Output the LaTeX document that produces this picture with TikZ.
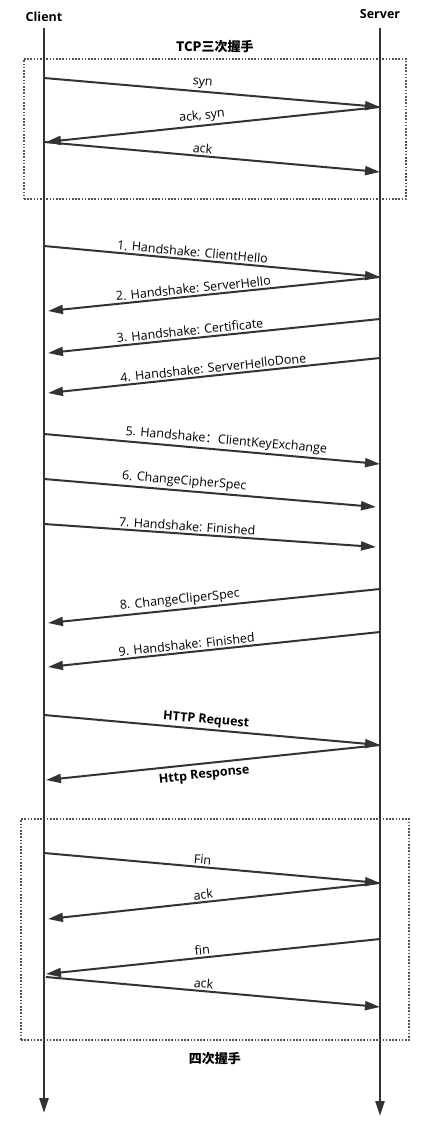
\documentclass[tikz,border=0pt]{standalone}
\usepackage{fontspec}
\setmainfont{Open Sans}
\newfontfamily\cjk{Noto Sans CJK SC}
\usetikzlibrary{arrows.meta,positioning}
\definecolor{ink}{HTML}{333333}
\definecolor{dotgray}{HTML}{555555}
\tikzset{
  actor/.style={
    font=\fontsize{12.5}{14}\selectfont\bfseries, text=black,
    inner sep=1pt
  },
  lifeline/.style={
    line width=2.2pt, draw=ink, -{Triangle[length=15pt,width=9pt]}
  },
  msg/.style={
    line width=2pt, draw=ink, -{Triangle[length=15pt,width=9pt]}
  },
  msglabel/.style={
    font=\fontsize{12.5}{14}\selectfont, text=black,
    sloped, inner sep=2pt
  },
  boldlabel/.style={
    msglabel, font=\fontsize{12.5}{14}\selectfont\bfseries
  },
  phasebox/.style={
    draw=dotgray, line width=1.8pt, dash pattern=on 1.6pt off 1.6pt,
    inner sep=0pt, anchor=north west
  },
  phaselabel/.style={
    font=\cjk\bfseries\fontsize{13}{15}\selectfont, inner sep=1pt
  },
}
\begin{document}
\begin{tikzpicture}[x=1pt, y=-1pt]
  \useasboundingbox (0,0) rectangle (427,1126);

  % actors and lifelines
  \node[actor] (client) at (44,17) {Client};
  \node[actor] (server) at (380,14) {Server};
  \coordinate (clienttop) at (44,28);
  \coordinate (servertop) at (380,28);
  \coordinate (clientend) at (44,1113);
  \coordinate (serverend) at (380,1116);

  % phase boxes
  \node[phasebox, minimum width=382pt, minimum height=140pt] (tcpbox) at (23,58) {};
  \node[phaselabel, above=4pt of tcpbox] (tcplabel) {TCP三次握手};
  \node[phasebox, minimum width=388pt, minimum height=221pt] (finbox) at (20,818) {};
  \node[phaselabel, below=10pt of finbox] (finlabel) {四次握手};

  \draw[lifeline] (clienttop) -- (clientend);
  \draw[lifeline] (servertop) -- (serverend);

  % TCP handshake
  \coordinate (c1) at (44,78);  \coordinate (s1) at (380,107);
  \coordinate (c2) at (46,142); \coordinate (c3) at (44,142);
  \coordinate (s3) at (380,172);
  \draw[msg] (c1) -- (s1) node[msglabel, pos=0.47, above] {syn};
  \draw[msg] (s1) -- (c2) node[msglabel, pos=0.53, above] {ack, syn};
  \draw[msg] (c3) -- (s3) node[msglabel, pos=0.47, above] {ack};

  % TLS handshake
  \coordinate (c4) at (44,246);  \coordinate (s4) at (380,277);
  \coordinate (c5) at (48,311);
  \coordinate (s6) at (380,319); \coordinate (c6) at (48,353);
  \coordinate (s7) at (380,358); \coordinate (c7) at (48,393);
  \draw[msg] (c4) -- (s4) node[msglabel, pos=0.44, above] {1. Handshake: ClientHello};
  \draw[msg] (s4) -- (c5) node[msglabel, pos=0.56, above] {2. Handshake: ServerHello};
  \draw[msg] (s6) -- (c6) node[msglabel, pos=0.57, above] {3. Handshake: Certificate};
  \draw[msg] (s7) -- (c7) node[msglabel, pos=0.50, above] {4. Handshake: ServerHelloDone};

  \coordinate (c8) at (44,434);  \coordinate (s8) at (380,464);
  \coordinate (c9) at (44,479);  \coordinate (s9) at (376,507);
  \coordinate (c10) at (44,524); \coordinate (s10) at (376,547);
  \draw[msg] (c8) -- (s8) node[msglabel, pos=0.54, above] {5. Handshake{\cjk ：}ClientKeyExchange};
  \draw[msg] (c9) -- (s9) node[msglabel, pos=0.42, above] {6. ChangeCipherSpec};
  \draw[msg] (c10) -- (s10) node[msglabel, pos=0.43, above] {7. Handshake: Finished};

  \coordinate (s11) at (380,589); \coordinate (c11) at (48,623);
  \coordinate (s12) at (380,632); \coordinate (c12) at (48,667);
  \draw[msg] (s11) -- (c11) node[msglabel, pos=0.60, above] {8. ChangeCliperSpec};
  \draw[msg] (s12) -- (c12) node[msglabel, pos=0.58, above] {9. Handshake: Finished};

  % HTTP
  \coordinate (c13) at (44,715); \coordinate (s13) at (380,745);
  \coordinate (c14) at (46,780);
  \draw[msg] (c13) -- (s13) node[boldlabel, pos=0.48, above] {HTTP Request};
  \draw[msg] (s13) -- (c14) node[boldlabel, pos=0.53, below, inner sep=5pt] {Http Response};

  % connection close
  \coordinate (c15) at (44,853); \coordinate (s15) at (380,883);
  \coordinate (c16) at (48,919);
  \coordinate (s17) at (380,939); \coordinate (c17) at (46,974);
  \coordinate (c18) at (46,977); \coordinate (s18) at (380,1007);
  \draw[msg] (c15) -- (s15) node[msglabel, pos=0.47, above] {Fin};
  \draw[msg] (s15) -- (c16) node[msglabel, pos=0.53, above] {ack};
  \draw[msg] (s17) -- (c17) node[msglabel, pos=0.53, above] {fin};
  \draw[msg] (c18) -- (s18) node[msglabel, pos=0.47, above] {ack};
\end{tikzpicture}
\end{document}
